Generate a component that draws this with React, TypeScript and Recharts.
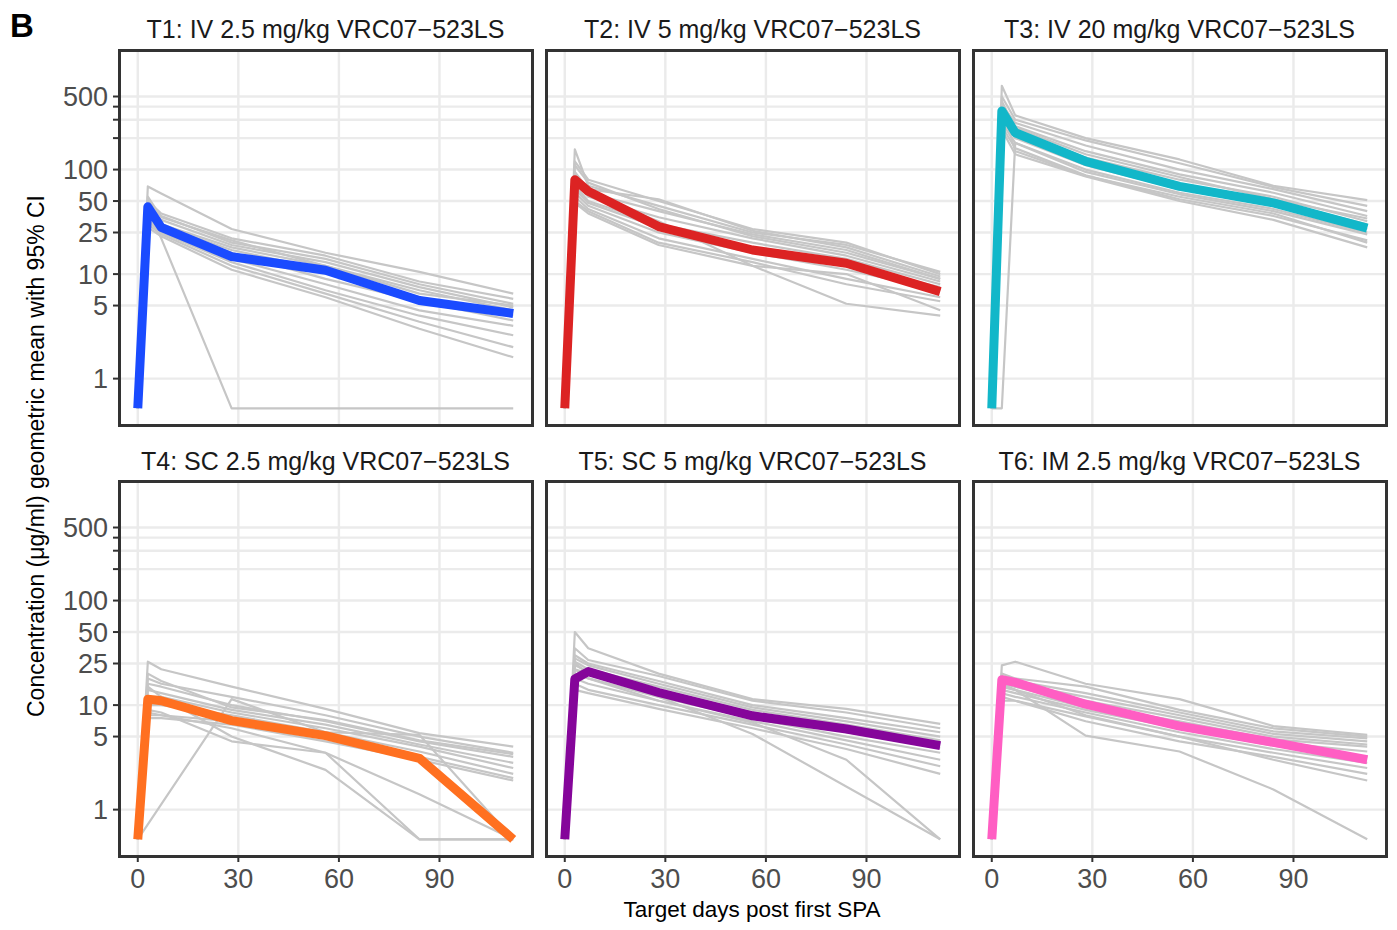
import React from 'react';
import { LineChart, Line, XAxis, YAxis, CartesianGrid } from 'recharts';

// sampling days and axis breaks
const DAYS = [0, 3, 7, 28, 56, 84, 112];
const X_TICKS = [0, 30, 60, 90];
const Y_TICKS = [1, 5, 10, 25, 50, 100, 200, 300, 400, 500];
const Y_LABELLED = [1, 5, 10, 25, 50, 100, 500];

const TITLES = [
  'T1: IV 2.5 mg/kg VRC07\u2212523LS',
  'T2: IV 5 mg/kg VRC07\u2212523LS',
  'T3: IV 20 mg/kg VRC07\u2212523LS',
  'T4: SC 2.5 mg/kg VRC07\u2212523LS',
  'T5: SC 5 mg/kg VRC07\u2212523LS',
  'T6: IM 2.5 mg/kg VRC07\u2212523LS',
];
const COLORS = ['#1a4bff', '#dc2323', '#12b7c9', '#ff7020', '#85059a', '#ff5ec3'];

// geometric means per group
const T1_MEAN = [0.52, 44, 28, 14.7, 10.9, 5.6, 4.2];
const T2_MEAN = [0.52, 80, 62, 28.5, 17, 12.7, 6.8];
const T3_MEAN = [0.52, 364, 225, 120, 69, 48, 27.5];
const T4_MEAN = [0.52, 11.4, 11, 7.1, 5.1, 3.1, 0.52];
const T5_MEAN = [0.52, 17.8, 20.9, 13.2, 7.9, 5.9, 4.1];
const T6_MEAN = [0.52, 17.5, 16.5, 10.2, 6.3, 4.4, 3.0];

// individual animals
const T1_SUBJ = [
  [0.52, 69, 59, 27, 16, 10.5, 6.5],
  [0.52, 50, 38, 22, 15, 8.5, 5.8],
  [0.52, 45, 36, 20, 14, 8, 5.2],
  [0.52, 42, 33, 19, 13, 7.5, 4.8],
  [0.52, 40, 30, 18, 12, 7, 4.5],
  [0.52, 38, 29, 17, 11, 6, 4.0],
  [0.52, 36, 27, 16, 9, 5.5, 3.6],
  [0.52, 34, 26, 14, 8, 4.5, 3.2],
  [0.52, 32, 25, 13, 7, 4, 2.6],
  [0.52, 30, 24, 12, 6.5, 3.5, 2.0],
  [0.52, 28, 23, 11, 6, 3, 1.6],
  [0.52, 40, 22, 0.52, 0.52, 0.52, 0.52],
  [0.52, 55, 35, 21, 12, 6.5, 5],
];
const T2_SUBJ = [
  [0.52, 156, 70, 45, 25, 19, 10.5],
  [0.52, 120, 80, 50, 27, 20, 10],
  [0.52, 95, 65, 52, 26, 18, 9.5],
  [0.52, 85, 60, 40, 24, 17, 9],
  [0.52, 75, 55, 35, 22, 15, 8.5],
  [0.52, 70, 50, 30, 20, 14, 8],
  [0.52, 65, 48, 28, 18, 12, 7.5],
  [0.52, 60, 45, 25, 16, 11, 7],
  [0.52, 55, 42, 22, 14, 9, 6],
  [0.52, 50, 40, 20, 13, 8, 5.5],
  [0.52, 48, 38, 19, 12, 5.2, 4.0],
  [0.52, 110, 75, 42, 23, 16, 9],
  [0.52, 90, 58, 32, 12, 10, 4.5],
];
const T3_SUBJ = [
  [0.52, 633, 330, 200, 125, 70, 51],
  [0.52, 500, 300, 190, 115, 68, 45],
  [0.52, 420, 280, 170, 100, 65, 40],
  [0.52, 380, 260, 150, 90, 60, 36],
  [0.52, 350, 240, 130, 80, 55, 32],
  [0.52, 320, 220, 120, 72, 50, 30],
  [0.52, 300, 200, 110, 65, 45, 27],
  [0.52, 280, 180, 95, 58, 40, 24],
  [0.52, 260, 160, 88, 52, 36, 21],
  [0.52, 240, 140, 86, 50, 33, 18],
  [0.52, 0.52, 180, 100, 60, 42, 25],
  [0.52, 450, 250, 140, 85, 52, 34],
  [0.52, 400, 150, 87, 55, 38, 20],
];
const T4_SUBJ = [
  [0.52, 26, 22, 15, 9.2, 5.4, 4.0],
  [0.52, 18, 16, 12, 8, 5, 3.5],
  [0.52, 16, 15, 10, 7, 4.5, 3.2],
  [0.52, 14, 13, 9, 6.5, 4.2, 2.8],
  [0.52, 12, 12, 8.5, 6, 4, 2.5],
  [0.52, 10, 10, 8, 5.5, 3.6, 2.2],
  [0.52, 8, 8, 7, 5, 3.2, 2.0],
  [0.52, 7.5, 7.5, 6.5, 4.5, 3, 1.9],
  [0.52, 8.5, 8, 6, 3.5, 0.52, 0.52],
  [0.52, 15, 12, 5, 2.4, 0.52, 0.52],
  [0.52, 9, 8.5, 4.5, 3.5, 1.4, 0.52],
  [0.52, null, null, 11.4, 5.5, 5.2, 0.52],
  [0.52, 20, 17, 9.5, 7.2, 4.6, 3.4],
];
const T5_SUBJ = [
  [0.52, 50, 35, 20, 11.4, 9.2, 6.6],
  [0.52, 35, 27, 19, 11, 8.5, 6.0],
  [0.52, 30, 25, 17, 10, 7.5, 5.5],
  [0.52, 28, 24, 16, 9.5, 7, 5],
  [0.52, 26, 22, 15, 9, 6.5, 4.6],
  [0.52, 24, 21, 14, 8.5, 6, 4.3],
  [0.52, 22, 20, 13, 8, 5.5, 3.9],
  [0.52, 20, 18, 12, 7.5, 5, 3.5],
  [0.52, 18, 16, 11, 7, 4.6, 3],
  [0.52, 16, 14, 10, 6.5, 4.2, 2.6],
  [0.52, 14, 13, 9.2, 6, 3.8, 2.2],
  [0.52, 25, 20, 12, 5.3, null, 0.52],
  [0.52, 22, 18, 11, 6.8, 3.0, 0.52],
];
const T6_SUBJ = [
  [0.52, 24, 26, 16, 11.4, 6.3, 5.2],
  [0.52, 20, 18, 15, 9, 6, 5],
  [0.52, 19, 17, 13, 8.5, 5.6, 4.8],
  [0.52, 18, 16, 12, 8, 5.3, 4.5],
  [0.52, 17, 15, 11, 7.5, 5, 4.2],
  [0.52, 16, 15, 10, 7, 4.7, 4],
  [0.52, 15, 14, 9.5, 6.5, 4.4, 3.6],
  [0.52, 14, 13, 9, 6, 4.1, 3.2],
  [0.52, 13, 12, 8.5, 5.5, 3.8, 2.8],
  [0.52, 12, 11, 7.8, 5, 3.5, 2.5],
  [0.52, 11, 11, 7, 4.5, 3.2, 2.2],
  [0.52, 15, 14, 5.1, 3.6, 1.56, 0.52],
  [0.52, 16, 14, 8, 5, 3, 1.9],
];

const MEANS = [T1_MEAN, T2_MEAN, T3_MEAN, T4_MEAN, T5_MEAN, T6_MEAN];
const SUBJECTS = [T1_SUBJ, T2_SUBJ, T3_SUBJ, T4_SUBJ, T5_SUBJ, T6_SUBJ];

const FONT = '"Liberation Sans", Arial, Helvetica, sans-serif';
const COL_LEFT = [119, 546, 973];
const ROW_TOP = [50, 481];
const PW = 413;
const PH = 375;
const Y_AXIS_W = 119;
const X_AXIS_H = 50;

const buildRows = (mean: number[], subj: (number | null)[][]) =>
  DAYS.map((day, i) => {
    const row: Record<string, number | null> = { day, mean: mean[i] };
    subj.forEach((s, j) => {
      row['s' + j] = s[i];
    });
    return row;
  });

const tickStyle = { fill: '#4d4d4d', fontSize: 27, fontFamily: FONT };
const blankTick = () => <g />;

const Panel = ({ idx }: { idx: number }) => {
  const r = Math.floor(idx / 3);
  const c = idx % 3;
  const showY = c === 0;
  const showX = r === 1;
  const yw = showY ? Y_AXIS_W : 0;
  const xh = showX ? X_AXIS_H : 0;
  const data = buildRows(MEANS[idx], SUBJECTS[idx]);
  const left = COL_LEFT[c] - yw;
  const top = ROW_TOP[r];
  return (
    <>
      <div style={{ position: 'absolute', left, top }}>
        <LineChart
          width={PW + yw}
          height={PH + xh}
          data={data}
          margin={{ top: 0, right: 0, bottom: 0, left: 0 }}
        >
          <CartesianGrid
            stroke="#ebebeb"
            strokeWidth={2.4}
            horizontalValues={Y_TICKS}
            verticalValues={X_TICKS}
          />
          <XAxis
            dataKey="day"
            type="number"
            domain={[-5.6, 117.6]}
            ticks={X_TICKS}
            interval={0}
            allowDataOverflow
            height={xh}
            axisLine={false}
            tick={showX ? tickStyle : blankTick}
            tickLine={showX ? { stroke: '#333333', strokeWidth: 2 } : false}
            tickSize={6}
            tickMargin={7}
          />
          <YAxis
            type="number"
            scale="log"
            domain={[0.36, 1393]}
            ticks={Y_TICKS}
            interval={0}
            allowDataOverflow
            width={yw}
            axisLine={false}
            tick={showY ? tickStyle : blankTick}
            tickLine={showY ? { stroke: '#333333', strokeWidth: 2 } : false}
            tickSize={6}
            tickMargin={5}
            tickFormatter={(v: number) => (Y_LABELLED.includes(v) ? String(v) : '')}
          />
          {SUBJECTS[idx].map((_, j) => (
            <Line
              key={j}
              dataKey={'s' + j}
              stroke="#c6c6c6"
              strokeWidth={2.2}
              dot={false}
              activeDot={false}
              connectNulls
              strokeLinejoin="round"
              isAnimationActive={false}
            />
          ))}
          <Line
            dataKey="mean"
            stroke={COLORS[idx]}
            strokeWidth={9}
            dot={false}
            activeDot={false}
            strokeLinejoin="round"
            isAnimationActive={false}
          />
        </LineChart>
      </div>
      <div
        style={{
          position: 'absolute',
          left: COL_LEFT[c] - 1.5,
          top: top - 1.5,
          width: PW + 3,
          height: PH + 3,
          border: '3px solid #333333',
          boxSizing: 'border-box',
          pointerEvents: 'none',
        }}
      />
    </>
  );
};

export default function App() {
  return (
    <div
      style={{
        position: 'absolute',
        left: 0,
        top: 0,
        width: 1397,
        height: 930,
        background: '#ffffff',
        fontFamily: FONT,
      }}
    >
      {TITLES.map((_, i) => (
        <Panel key={i} idx={i} />
      ))}
      <svg
        width={1397}
        height={930}
        style={{ position: 'absolute', left: 0, top: 0, pointerEvents: 'none' }}
      >
        <text x={10} y={37} fontSize={33} fontWeight="bold" fontFamily={FONT} fill="#000">
          B
        </text>
        {TITLES.map((t, i) => (
          <text
            key={t}
            x={COL_LEFT[i % 3] + PW / 2}
            y={i < 3 ? 38 : 470}
            textAnchor="middle"
            fontSize={25}
            fontFamily={FONT}
            fill="#1a1a1a"
          >
            {t}
          </text>
        ))}
        <text x={752} y={917} textAnchor="middle" fontSize={22.5} fontFamily={FONT} fill="#000">
          Target days post first SPA
        </text>
        <text
          x={44}
          y={456}
          textAnchor="middle"
          fontSize={23}
          fontFamily={FONT}
          fill="#000"
          transform="rotate(-90, 44, 456)"
        >
          Concentration (μg/ml) geometric mean with 95% CI
        </text>
      </svg>
    </div>
  );
}
